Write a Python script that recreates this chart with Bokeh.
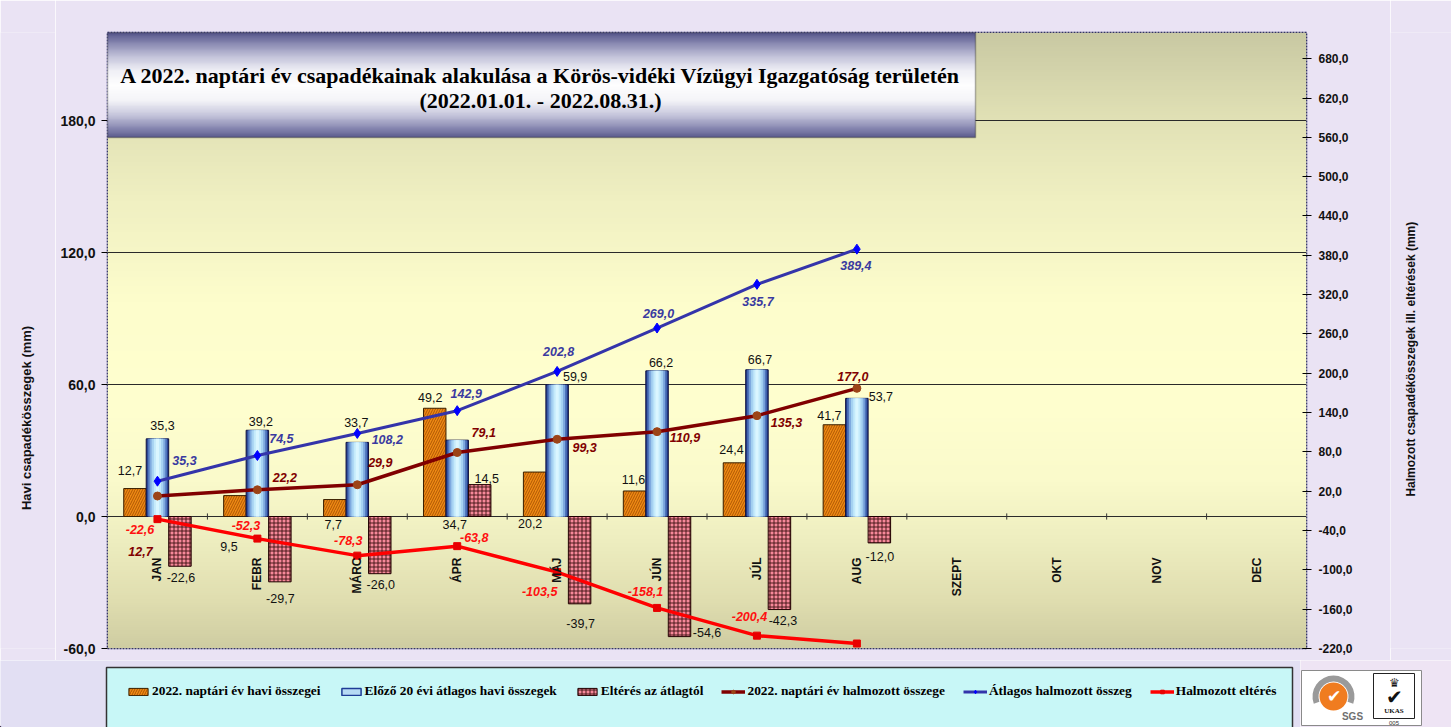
import numpy as np
from bokeh.plotting import figure
from bokeh.layouts import column, row
from bokeh.models import (ColumnDataSource, Range1d, LinearAxis, FixedTicker,
                          CustomJSTickFormatter, Label, Legend, LegendItem, BoxAnnotation)
from bokeh.core.properties import value
from bokeh.embed import file_html
from bokeh.resources import INLINE

# ---------------- data ----------------
months = ["JAN", "FEBR", "MÁRC", "ÁPR", "MÁJ", "JÚN", "JÚL", "AUG", "SZEPT", "OKT", "NOV", "DEC"]
monthly_2022 = [12.7, 9.5, 7.7, 49.2, 20.2, 11.6, 24.4, 41.7]
monthly_avg20 = [35.3, 39.2, 33.7, 34.7, 59.9, 66.2, 66.7, 53.7]
monthly_diff = [-22.6, -29.7, -26.0, 14.5, -39.7, -54.6, -42.3, -12.0]
cum_2022 = [12.7, 22.2, 29.9, 79.1, 99.3, 110.9, 135.3, 177.0]
cum_avg = [35.3, 74.5, 108.2, 142.9, 202.8, 269.0, 335.7, 389.4]
cum_diff = [-22.6, -52.3, -78.3, -63.8, -103.5, -158.1, -200.4, -212.4]
cum_diff_labelled = [True, True, True, True, True, True, True, False]

left_ticks = [-60, 0, 60, 120, 180]
right_ticks = [-220, -160, -100, -40, 20, 80, 140, 200, 260, 320, 380, 440, 500, 560, 620, 680]

title_lines = ["A 2022. naptári év csapadékainak alakulása a Körös-vidéki Vízügyi Igazgatóság területén",
               "(2022.01.01. - 2022.08.31.)"]
left_axis_title = "Havi csapadékösszegek (mm)"
right_axis_title = "Halmozott csapadékösszegek ill. eltérések (mm)"
legend_labels = ["2022. naptári év havi összegei", "Előző 20 évi átlagos havi összegek",
                 "Eltérés az átlagtól", "2022. naptári év halmozott összege",
                 "Átlagos halmozott összeg", "Halmozott eltérés"]

# ---------------- label placement (screen px offsets, layout only) ----------------
orange_dx = [-5, -6, -1.5, -4.5, -4.5, -1, -3, -5]
orange_dy = [-18, 51, 25, -10.5, 51.5, -11.5, -13.7, -9]
blue_dx = [5, 3.5, -1, -2.5, 18, 4, 3, 24]
blue_dy = [-13, -9, -19.7, 84, -8, -8, -10.5, -2]
diff_dx = [1, 0.5, 1, 7, 1, 27.5, 3.5, 0.5]
diff_dy = [11.7, 17, 11, -6, 19.5, -4, 11, 13.6]
c22_dx = [-17, 27.5, 23, 26.5, 27.5, 28, 29.5, -4]
c22_dy = [55, -12, -22, -20, 8.6, 6, 7, -12]
cav_dx = [27, 24, 30, 9, 1.5, 1.5, 1, -1]
cav_dy = [-21, -16.6, 6, -17, -20, -14.5, 17, 16]
cdf_dx = [-17.5, -11.5, -9, 17, -17.5, -11.5, -7.5, 0]
cdf_dy = [10, -13, -15, -8.5, 19.5, -16, -19.6, 0]

def fmt(v):
    return f"{v:.1f}".replace(".", ",")

# ---------------- geometry (page px) ----------------
PAGE_W, PAGE_H = 1451, 727
TOP_H = 660                      # height of the chart row
LTW = 55                         # left title strip width
RTX = 1390                       # x where the right title strip starts
FL, FT, FW, FH = 107, 32, 1199, 616   # plot frame in page px
XMIN, XMAX, YMIN, YMAX = 0.5, 12.5, -60, 220
R2MIN, R2MAX = -220, 720
BORDER = "#EAE3F4"

def xd(px):
    return XMIN + (px - FL) * (XMAX - XMIN) / FW

def yd(py):
    return YMAX - (py - FT) * (YMAX - YMIN) / FH

def hex_rgb(h):
    h = h.lstrip("#")
    return [int(h[i:i + 2], 16) for i in (0, 2, 4)]

def gradient_image(stops, n=300):
    img = np.empty((n, 1), dtype=np.uint32)
    view = img.view(dtype=np.uint8).reshape((n, 1, 4))
    pos = [s[0] for s in stops]
    cols = np.array([hex_rgb(s[1]) for s in stops], dtype=float)
    for k in range(n):
        t = k / (n - 1)
        rgb = [np.interp(t, pos, cols[:, c]) for c in range(3)]
        view[k, 0, :] = [int(rgb[0]), int(rgb[1]), int(rgb[2]), 255]
    return img

def blank_fig(w, h, fill):
    f = figure(width=w, height=h, x_range=Range1d(0, w), y_range=Range1d(0, h),
               x_axis_type=None, y_axis_type=None, output_backend="svg",
               toolbar_location=None, min_border=0, border_fill_color=fill,
               background_fill_color=fill)
    f.title.visible = False
    f.outline_line_color = None
    f.grid.visible = False
    return f

# ---------------- main chart ----------------
PW = RTX - LTW
p = figure(width=PW, height=TOP_H, x_range=Range1d(XMIN, XMAX), y_range=Range1d(YMIN, YMAX),
           x_axis_type=None, output_backend="svg", toolbar_location=None,
           min_border_left=FL - LTW, min_border_top=FT, min_border_right=RTX - (FL + FW),
           min_border_bottom=TOP_H - FT - FH,
           border_fill_color=BORDER, background_fill_color="#FFFFCC")
p.title.visible = False
p.outline_line_color = "#000050"
p.outline_line_dash = "2 1"
p.outline_line_width = 1.5

bg_stops = [(0.0, "#CFCDA2"), (0.078, "#E0DEB0"), (0.175, "#EEEEC0"), (0.27, "#FAFACB"),
            (0.40, "#FFFFCF"), (0.565, "#FDFDCC"), (0.727, "#F0F0C2"), (0.857, "#E2E2B6"),
            (1.0, "#C9C9A3")]
p.image_rgba(image=[gradient_image(bg_stops)], x=XMIN, y=YMIN, dw=XMAX - XMIN, dh=YMAX - YMIN,
             level="image")

yax = p.yaxis[0]
yax.ticker = FixedTicker(ticks=left_ticks)
yax.formatter = CustomJSTickFormatter(code="return tick.toFixed(1).replace('.', ',');")
yax.axis_line_color = None
yax.major_tick_out = 6
yax.major_tick_in = 0
yax.minor_tick_line_color = None
yax.major_label_standoff = 6
yax.major_label_text_font = "Liberation Sans"
yax.major_label_text_font_style = "bold"
yax.major_label_text_font_size = "14px"
yax.major_label_text_color = "#111111"
p.ygrid[0].ticker = FixedTicker(ticks=left_ticks)
p.ygrid[0].grid_line_color = "#2A2A2A"
p.ygrid[0].grid_line_width = 1

p.extra_y_ranges = {"cum": Range1d(R2MIN, R2MAX)}
rax = LinearAxis(y_range_name="cum", ticker=FixedTicker(ticks=right_ticks),
                 formatter=CustomJSTickFormatter(code="return tick.toFixed(1).replace('.', ',');"))
rax.axis_line_color = None
rax.major_tick_out = 5
rax.major_tick_in = 4
rax.minor_tick_line_color = None
rax.major_label_standoff = 7
rax.major_label_text_font = "Liberation Sans"
rax.major_label_text_font_style = "bold"
rax.major_label_text_font_size = "12px"
rax.major_label_text_color = "#111111"
p.add_layout(rax, "right")

# ---------------- bars ----------------
n = len(monthly_2022)
xs = np.arange(1, n + 1, dtype=float)
BW = 0.225
src = ColumnDataSource(dict(
    xo=xs - BW, xb=xs, xc=xs + BW,
    m22=monthly_2022, avg=monthly_avg20, diff=monthly_diff))

ORANGE = dict(fill_color="#EE8A14", line_color="#3A2000", line_width=1,
              hatch_pattern="/", hatch_color="#A04800", hatch_scale=5, hatch_weight=1,
              hatch_alpha=0.8)
CHECK = dict(fill_color="#F7899A", line_color="#200000", line_width=1,
             hatch_pattern="+", hatch_color="#3A1010", hatch_scale=4, hatch_weight=0.9)
BLUE_LEG = dict(fill_color="#B6DAF4", line_color="#1E3C96", line_width=1.5)

p.vbar(x="xo", top="m22", bottom=0, width=BW, source=src, **ORANGE)

blue_fracs = [1.0, 0.86, 0.70, 0.52, 0.32, 0.14]
blue_cols = ["#24408F", "#4F74BC", "#7FAADF", "#A6D2F2", "#C4EAFB", "#DAF6FF"]
for k, (fr, col) in enumerate(zip(blue_fracs, blue_cols)):
    p.vbar(x="xb", top="avg", bottom=0, width=BW * fr, source=src, fill_color=col,
           line_color="#101040" if k == 0 else None, line_width=1)

p.vbar(x="xc", top="diff", bottom=0, width=BW, source=src, **CHECK)

bounds = [i + 0.5 for i in range(1, len(months))]
p.segment(x0=bounds, x1=bounds, y0=[-1.4] * len(bounds), y1=[1.4] * len(bounds),
          line_color="#333333", line_width=1)

# ---------------- lines ----------------
BLUE_L = dict(line_color="#3434AA", line_width=3)
BLUE_M = dict(marker="diamond", size=10, fill_color="#0000FF", line_color="#0000FF")
BROWN_L = dict(line_color="#800000", line_width=3.5)
BROWN_M = dict(marker="circle", size=8, fill_color="#9C4418", line_color="#9C4418")
RED_L = dict(line_color="#FF0000", line_width=3.5)
RED_M = dict(marker="square", size=7, fill_color="#E80000", line_color="#E80000")

lsrc = ColumnDataSource(dict(x=xs, c22=cum_2022, cav=cum_avg, cdf=cum_diff))
p.line("x", "cav", source=lsrc, y_range_name="cum", **BLUE_L)
p.scatter("x", "cav", source=lsrc, y_range_name="cum", **BLUE_M)
p.line("x", "c22", source=lsrc, y_range_name="cum", **BROWN_L)
p.scatter("x", "c22", source=lsrc, y_range_name="cum", **BROWN_M)
p.line("x", "cdf", source=lsrc, y_range_name="cum", **RED_L)
p.scatter("x", "cdf", source=lsrc, y_range_name="cum", **RED_M)

# ---------------- data labels ----------------
def labels(xv, yv, texts, dx, dy, color, style, rng=None):
    s = ColumnDataSource(dict(x=list(xv), y=list(yv), t=texts, dx=dx, dy=dy))
    kw = dict(y_range_name=rng) if rng else {}
    p.text("x", "y", text="t", source=s, x_offset="dx", y_offset="dy",
           text_align="center", text_baseline="middle", text_color=color,
           text_font=value("Liberation Sans"), text_font_size="12.5px",
           text_font_style=style, **kw)

labels(xs - BW, monthly_2022, [fmt(v) for v in monthly_2022], orange_dx, orange_dy, "#111111", "normal")
labels(xs, monthly_avg20, [fmt(v) for v in monthly_avg20], blue_dx, blue_dy, "#111111", "normal")
labels(xs + BW, monthly_diff, [fmt(v) for v in monthly_diff], diff_dx, diff_dy, "#111111", "normal")
labels(xs, cum_2022, [fmt(v) for v in cum_2022], c22_dx, c22_dy, "#800000", "bold italic", "cum")
labels(xs, cum_avg, [fmt(v) for v in cum_avg], cav_dx, cav_dy, "#3A3AA0", "bold italic", "cum")
labels(xs, cum_diff, [fmt(v) if f else "" for v, f in zip(cum_diff, cum_diff_labelled)],
       cdf_dx, cdf_dy, "#FF1010", "bold italic", "cum")

cat_x = list(np.arange(1, len(months) + 1, dtype=float))
csrc = ColumnDataSource(dict(x=cat_x, y=[0.0] * len(months), t=months))
p.text("x", "y", text="t", source=csrc, y_offset=41, angle=np.pi / 2,
       text_align="right", text_baseline="middle", text_color="#111111",
       text_font=value("Liberation Sans"), text_font_size="12px", text_font_style="bold")

# ---------------- title box ----------------
tb_stops = [(0.0, "#5E5E90"), (0.086, "#8888B2"), (0.21, "#C6C6DC"), (0.35, "#F4F4F8"),
            (0.50, "#FFFFFF"), (0.64, "#F0F0F6"), (0.78, "#C0C0D8"), (0.905, "#8686B0"),
            (1.0, "#55558A")]
tx0, tx1, ty0, ty1 = xd(107), xd(975), yd(137), yd(32)
p.image_rgba(image=[gradient_image(tb_stops, 120)], x=tx0, y=ty0, dw=tx1 - tx0, dh=ty1 - ty0,
             level="annotation")
p.add_layout(BoxAnnotation(left=tx0, right=tx1, bottom=ty0, top=ty1, fill_alpha=0,
                           line_color="#111111", line_width=1.5, level="overlay"))
for line_txt, py in zip(title_lines, [75, 100]):
    p.add_layout(Label(x=xd(540), y=yd(py), text=line_txt, text_align="center",
                       text_baseline="middle", text_font="Liberation Serif",
                       text_font_style="bold", text_font_size="22px", text_color="#000000",
                       level="overlay"))

# ---------------- axis title strips ----------------
ltf = blank_fig(LTW, TOP_H, BORDER)
ltf.text(x=[26], y=[TOP_H - 413], text=[left_axis_title], angle=np.pi / 2,
         text_align="center", text_baseline="middle", text_color="#111111",
         text_font=value("Liberation Sans"), text_font_style="bold", text_font_size="13px")

RTW = PAGE_W - RTX
rtf = blank_fig(RTW, TOP_H, BORDER)
rtf.text(x=[1410 - RTX], y=[TOP_H - 350], text=[right_axis_title], angle=np.pi / 2,
         text_align="center", text_baseline="middle", text_color="#111111",
         text_font=value("Liberation Sans"), text_font_style="bold", text_font_size="12px")

# ---------------- legend strip ----------------
LH = PAGE_H - TOP_H
LW = 1300
lf = blank_fig(LW, LH, "#E2DFF3")
lf.quad(left=[106], right=[1292], top=[LH - 7], bottom=[-5], fill_color="#C8F7F7",
        line_color="#333333", line_width=1.5)

OFF = [-500.0]
OFF2 = [-500.0, -499.0]
e_or = lf.vbar(x=OFF, top=[1], width=1, **ORANGE)
e_bl = lf.vbar(x=OFF, top=[1], width=1, **BLUE_LEG)
e_ch = lf.vbar(x=OFF, top=[1], width=1, **CHECK)
e_brl = lf.line(x=OFF2, y=[0, 0], **BROWN_L)
e_brm = lf.scatter(x=OFF, y=[0], **BROWN_M)
e_bll = lf.line(x=OFF2, y=[0, 0], **BLUE_L)
e_blm = lf.scatter(x=OFF, y=[0], **BLUE_M)
e_rl = lf.line(x=OFF2, y=[0, 0], **RED_L)
e_rm = lf.scatter(x=OFF, y=[0], **RED_M)

items = [LegendItem(label=legend_labels[0], renderers=[e_or]),
         LegendItem(label=legend_labels[1], renderers=[e_bl]),
         LegendItem(label=legend_labels[2], renderers=[e_ch]),
         LegendItem(label=legend_labels[3], renderers=[e_brl, e_brm]),
         LegendItem(label=legend_labels[4], renderers=[e_bll, e_blm]),
         LegendItem(label=legend_labels[5], renderers=[e_rl, e_rm])]
leg = Legend(items=items, orientation="horizontal", location=(126, 26),
             padding=0, spacing=18, glyph_width=24, glyph_height=9, label_standoff=2,
             label_height=20,
             label_text_font="Liberation Serif", label_text_font_style="bold",
             label_text_font_size="13.4px", label_text_color="#000000",
             background_fill_alpha=0, border_line_color=None)
lf.add_layout(leg)

# ---------------- certification logos ----------------
GW = PAGE_W - LW
gf = blank_fig(GW, LH, "#EEE4F4")
gf.quad(left=[1], right=[121], top=[57], bottom=[2], fill_color="white",
        line_color="#8A8A8A", line_width=1)
gf.annular_wedge(x=[33], y=[31], inner_radius=15, outer_radius=21, start_angle=-0.35,
                 end_angle=np.pi + 0.35, fill_color="#9A9A9A", line_color=None)
gf.scatter(x=[33], y=[31], marker="circle", size=28, fill_color="#F07C20", line_color=None)
gf.text(x=[33], y=[31], text=["\u2714"], text_align="center", text_baseline="middle",
        text_font_size="17px", text_color="white")
gf.text(x=[52], y=[11], text=["SGS"], text_align="center", text_baseline="middle",
        text_font=value("Liberation Sans"), text_font_style="bold", text_font_size="10px",
        text_color="#707070")
gf.quad(left=[73], right=[114], top=[54], bottom=[9], fill_color="white",
        line_color="#222222", line_width=1)
gf.text(x=[93.5], y=[45], text=["\u265B"], text_align="center", text_baseline="middle",
        text_font_size="12px", text_color="#111111")
gf.text(x=[93.5], y=[31], text=["\u2714"], text_align="center", text_baseline="middle",
        text_font_size="20px", text_color="#111111")
gf.text(x=[93.5], y=[17], text=["UKAS"], text_align="center", text_baseline="middle",
        text_font=value("Liberation Serif"), text_font_style="bold", text_font_size="7px",
        text_color="#111111")
gf.text(x=[93.5], y=[5], text=["005"], text_align="center", text_baseline="middle",
        text_font=value("Liberation Sans"), text_font_size="6px", text_color="#333333")

layout = column(row(ltf, p, rtf, spacing=0), row(lf, gf, spacing=0), spacing=0)
open("out.html", "w").write(file_html(layout, INLINE))
